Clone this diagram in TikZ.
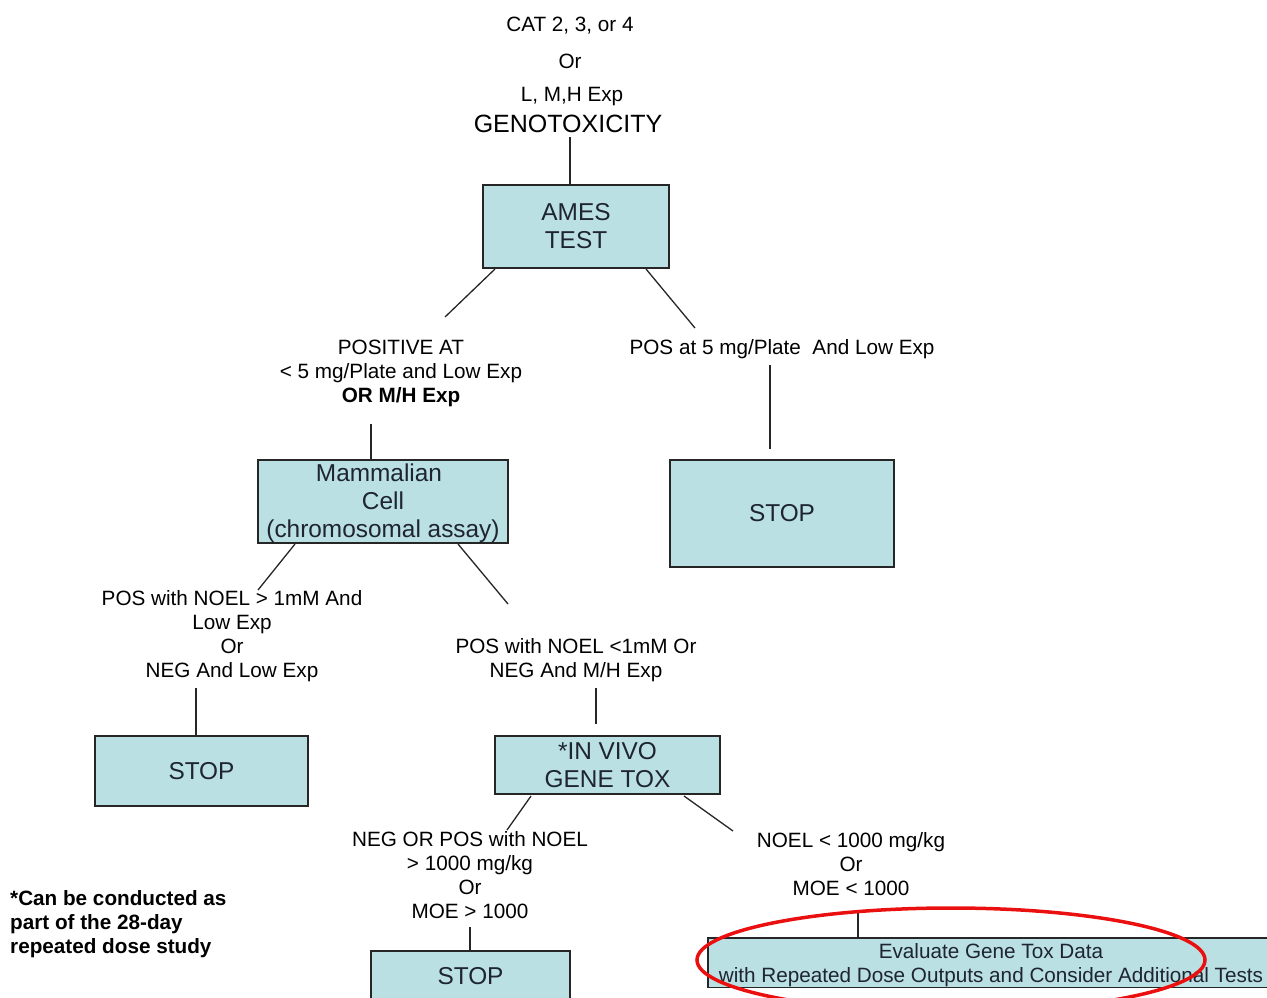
\documentclass[tikz,border=0pt]{standalone}
\usepackage{fontspec}
\setmainfont{Liberation Sans}
\definecolor{boxfill}{RGB}{186,224,227}
\definecolor{boxtext}{RGB}{30,36,48}
\definecolor{ovalred}{RGB}{235,16,16}
\begin{document}
\begin{tikzpicture}[x=1pt,y=-1pt,
  box/.style={draw=black!85, line width=1.3pt, fill=boxfill, text=boxtext, inner sep=0pt, align=center, font=\fontsize{24.4}{28}\selectfont},
  lbl/.style={inner sep=0pt, align=center, yshift=-2pt, font=\fontsize{20.7}{24}\selectfont},
  conn/.style={line width=1.3pt, draw=black!85}]
\useasboundingbox (0,0) rectangle (1267,997);

% top labels
\node[lbl] (cat) at (570,24) {CAT 2, 3, or 4};
\node[lbl] (or1) at (570,59) {Or};
\node[lbl] (lmh) at (572,95) {L, M,H Exp};
\node[lbl, font=\fontsize{25}{28}\selectfont] (geno) at (568,122) {GENOTOXICITY};

% boxes
\node[box, minimum width=186, minimum height=83] (ames) at (576,226.5) {AMES\\TEST};
\node[box, minimum width=250, minimum height=83] (mam) at (383,501.5) {\rule{0pt}{21pt}Mammalian\kern8pt\\Cell\\(chromosomal assay)};
\node[box, minimum width=224, minimum height=107] (stopr) at (782,513.5) {STOP};
\node[box, minimum width=213, minimum height=70] (stopl) at (201.5,771) {STOP};
\node[box, minimum width=225, minimum height=58] (vivo) at (607.5,765) {*IN VIVO\\GENE TOX};
\node[box, minimum width=199, minimum height=50] (stopb) at (470.5,976) {STOP};
\node[box, minimum width=566, minimum height=49, font=\fontsize{20.7}{24}\selectfont] (eval) at (991,962.5) {\rule{0pt}{21pt}Evaluate Gene Tox Data\\with Repeated Dose Outputs and Consider Additional Tests};

% branch labels
\node[lbl] (posat) at (401,371) {POSITIVE AT\\< 5 mg/Plate and Low Exp\\\textbf{OR M/H Exp}};
\node[lbl] (pos5) at (782,347) {POS at 5 mg/Plate~~And Low Exp};
\node[lbl] (posgt) at (232,634.5) {POS with NOEL > 1mM And\\Low Exp\\Or\\NEG And Low Exp};
\node[lbl] (poslt) at (576,658.5) {POS with NOEL <1mM Or\\NEG And M/H Exp};
\node[lbl] (negor) at (470,873.5) {NEG OR POS with NOEL\\> 1000 mg/kg\\Or\\MOE > 1000};
\node[lbl] (noel) at (851,862) {NOEL < 1000 mg/kg\\Or\\MOE < 1000};
\node[lbl, align=left, anchor=west, font=\bfseries\fontsize{20.7}{24}\selectfont] (foot) at (10,922) {*Can be conducted as\\part of the 28-day\\repeated dose study};

% connector free ends
\coordinate (g1) at (570,137);
\coordinate (a1) at (495,269);
\coordinate (a2) at (445,317);
\coordinate (a3) at (646,269);
\coordinate (a4) at (695,328);
\coordinate (r1) at (770,365);
\coordinate (r2) at (770,449);
\coordinate (p1) at (371,424);
\coordinate (m1) at (295,544);
\coordinate (m2) at (258,590);
\coordinate (m3) at (458,544);
\coordinate (m4) at (508,604);
\coordinate (l1) at (196,688);
\coordinate (q1) at (596,688);
\coordinate (q2) at (596,724);
\coordinate (v1) at (531,796);
\coordinate (v2) at (507,830);
\coordinate (v3) at (684,796);
\coordinate (v4) at (733,831);
\coordinate (b1) at (470,927);
\coordinate (e1) at (858,912);

\draw[conn] (g1) -- (g1 |- ames.north);
\draw[conn] (a1) -- (a2);
\draw[conn] (a3) -- (a4);
\draw[conn] (r1) -- (r2);
\draw[conn] (p1) -- (p1 |- mam.north);
\draw[conn] (m1) -- (m2);
\draw[conn] (m3) -- (m4);
\draw[conn] (l1) -- (l1 |- stopl.north);
\draw[conn] (q1) -- (q2);
\draw[conn] (v1) -- (v2);
\draw[conn] (v3) -- (v4);
\draw[conn] (b1) -- (b1 |- stopb.north);
\draw[conn] (e1) -- (e1 |- eval.north);

% red oval
\draw[ovalred, line width=3.5pt] (951,960) ellipse [x radius=254, y radius=52];
\end{tikzpicture}
\end{document}
